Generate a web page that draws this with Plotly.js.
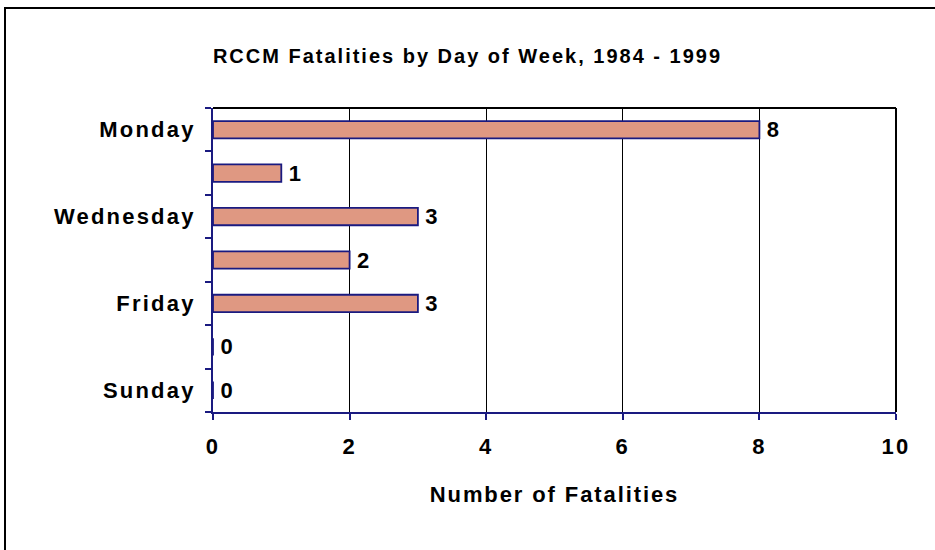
<!DOCTYPE html>
<html>
<head>
<meta charset="utf-8">
<script src="https://cdn.plot.ly/plotly-3.0.1.min.js"></script>
<style>
  html, body { margin:0; padding:0; background:#fff; }
  #wrap { position:relative; width:935px; height:550px; overflow:hidden; }
  #chart { width:935px; height:550px; }
  #frame { position:absolute; left:4px; top:7px; width:1000px; height:1000px; border:2px solid #000; pointer-events:none; box-sizing:border-box; }
  #chart .xtick text, #chart .ytick text { letter-spacing: 2.2px; }
  #chart .g-xtitle text { letter-spacing: 1.9px; }
  #chart .gtitle { letter-spacing: 2px; }
  #chart .textpoint text { letter-spacing: 0px; }
</style>
</head>
<body>
<div id="wrap">
  <div id="chart"></div>
  <div id="frame"></div>
</div>
<script>
const days = ["Monday","Tuesday","Wednesday","Thursday","Friday","Saturday","Sunday"];
const fatalities = [8, 1, 3, 2, 3, 0, 0];
const dayLabels = ["Monday","","Wednesday","","Friday","","Sunday"];
const xTicks = [0, 2, 4, 6, 8, 10];

const FONT = "Liberation Sans, Arial, sans-serif";

const trace = {
  type: "bar",
  orientation: "h",
  y: days,
  x: fatalities,
  width: 0.4,
  text: fatalities.map(v => "\u2009" + v),
  textposition: "outside",
  constraintext: "none",
  cliponaxis: false,
  textfont: { family: FONT, size: 22, color: "#000", weight: "bold" },
  marker: { color: "#DF9882", line: { color: "#1a1a80", width: 1.8 } },
  hoverinfo: "x+y"
};

const layout = {
  width: 935, height: 550,
  margin: { l: 213, r: 39, t: 108, b: 138 },
  paper_bgcolor: "#fff",
  plot_bgcolor: "#fff",
  showlegend: false,
  font: { family: FONT, color: "#000" },
  title: {
    text: "<b>RCCM Fatalities by Day of Week, 1984 - 1999</b>",
    font: { family: FONT, size: 20, color: "#000" },
    xref: "container", x: 0.5, xanchor: "center",
    yref: "container", y: 1 - 56/550, yanchor: "middle"
  },
  xaxis: {
    range: [0, 10],
    tickmode: "array",
    tickvals: xTicks,
    ticktext: xTicks.map(String),
    showgrid: true, gridcolor: "#000", gridwidth: 1,
    zeroline: false,
    showline: true, linecolor: "#1a1a80", linewidth: 2,
    ticks: "outside", ticklen: 6, tickcolor: "#1a1a80", tickwidth: 2,
    tickfont: { family: FONT, size: 22, color: "#000", weight: "bold" },
    ticklabelstandoff: 8,
    title: { text: "<b>Number of Fatalities</b>", font: { family: FONT, size: 22, color: "#000" }, standoff: 28 }
  },
  yaxis: {
    type: "category",
    autorange: "reversed",
    tickmode: "array",
    tickvals: days,
    ticktext: dayLabels,
    tickson: "boundaries",
    showgrid: false,
    zeroline: false,
    showline: true, linecolor: "#1a1a80", linewidth: 2,
    ticks: "outside", ticklen: 6, tickcolor: "#1a1a80", tickwidth: 2,
    tickfont: { family: FONT, size: 22, color: "#000", weight: "bold" },
    ticklabelstandoff: 11
  },
  shapes: [
    { type: "line", xref: "paper", yref: "paper", x0: 0, x1: 1, y0: 1, y1: 1, line: { color: "#000", width: 2 }, layer: "above" },
    { type: "line", xref: "paper", yref: "paper", x0: 1, x1: 1, y0: 0, y1: 1, line: { color: "#000", width: 2 }, layer: "above" }
  ]
};

Plotly.newPlot("chart", [trace], layout, { displayModeBar: false, staticPlot: true });
</script>
</body>
</html>
